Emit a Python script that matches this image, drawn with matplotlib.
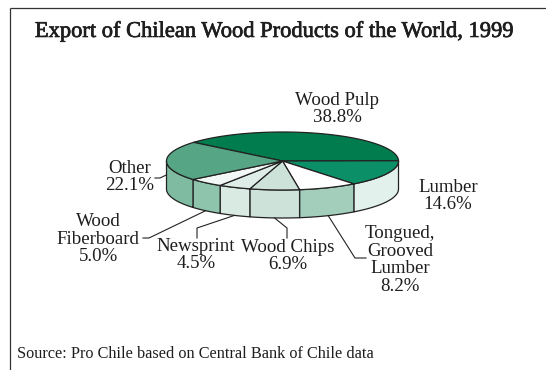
import numpy as np
import matplotlib
matplotlib.use("Agg")
import matplotlib.pyplot as plt
from matplotlib.patches import Polygon
import matplotlib.patheffects as pe

# ---- data ----
categories = ["Wood Pulp", "Lumber", "Tongued,\nGrooved\nLumber", "Wood Chips",
              "Newsprint", "Wood\nFiberboard", "Other"]
values = [38.8, 14.6, 8.2, 6.9, 4.5, 5.0, 22.1]
top_colors = ["#007c4f", "#0b8f66", "#ffffff", "#cde3da", "#deede7", "#f1f8f5", "#56a686"]
side_colors = ["#007c4f", "#e3f1ec", "#a4cebc", "#cde3da", "#d9eae3", "#8ec4ac", "#7ebba1"]

# ---- geometry (pixel-space layout) ----
W, H = 546, 370
cx, cy, a, b, depth = 282.5, 161.0, 116.0, 29.0, 28.0
start = 140.0

fig = plt.figure(figsize=(W / 100, H / 100), dpi=100)
ax = fig.add_axes([0, 0, 1, 1])
ax.set_xlim(0, W)
ax.set_ylim(H, 0)
ax.axis("off")

ec = "#222222"
lw = 0.9

def pt(theta_deg):
    t = np.radians(theta_deg)
    return cx + a * np.cos(t), cy - b * np.sin(t)

total = sum(values)
angles = [start]
for v in values:
    angles.append(angles[-1] - v / total * 360.0)

# sides (only front-facing part)
for i, v in enumerate(values):
    t0, t1 = angles[i], angles[i + 1]
    ts = np.linspace(t0, t1, 200)
    tn = ((ts + 180) % 360) - 180
    mask = tn < 0
    if not mask.any():
        continue
    seg = ts[mask]
    xs, ys = pt(seg)
    poly = np.concatenate([np.column_stack([xs, ys]),
                           np.column_stack([xs[::-1], ys[::-1] + depth])])
    ax.add_patch(Polygon(poly, closed=True, facecolor=side_colors[i],
                         edgecolor=ec, linewidth=lw, joinstyle="round", zorder=2))

# tops
for i, v in enumerate(values):
    t0, t1 = angles[i], angles[i + 1]
    ts = np.linspace(t0, t1, 200)
    xs, ys = pt(ts)
    poly = np.concatenate([[[cx, cy]], np.column_stack([xs, ys])])
    ax.add_patch(Polygon(poly, closed=True, facecolor=top_colors[i],
                         edgecolor=ec, linewidth=lw, joinstyle="round", zorder=3))

# ---- labels ----
font = "Liberation Serif"
tc = "#1e1e1e"
fs = 13.6
pcts = ["%.1f%%" % v for v in values]
label_pos = [(337, 109), (448, 196), (400, 260), (288, 256), (196, 255),
             (98, 239), (130, 177)]
for i, (x, y) in enumerate(label_pos):
    ax.text(x, y, categories[i] + "\n" + pcts[i], ha="center", va="center",
            fontsize=fs, family=font, color=tc, linespacing=1.05, zorder=5)

# leader lines: from side at slice mid-angle to label
mid = [(angles[i] + angles[i + 1]) / 2 for i in range(len(values))]
leaders = {
    6: [(155, 178), (160, 178)],
    5: [(143, 238), (149, 238)],
    4: [(197, 228), (197, 238)],
    3: [(287, 228), (287, 238)],
    2: [(355, 258), (366, 258)],
}
for i, pts in leaders.items():
    x0, y0 = pt(mid[i])
    y0 += depth * (0.5 if i == 6 else 1.0)
    if i in (6, 5):
        path = [pts[0], pts[1], (x0, y0)]
    else:
        path = [(x0, y0)] + pts
    xs, ys = zip(*path)
    ax.plot(xs, ys, color=ec, lw=0.8, zorder=4)

# ---- title, source, frame ----
ax.text(274.5, 32, "Export of Chilean Wood Products of the World, 1999",
        ha="center", va="center", fontsize=16.2, family=font, color=tc,
        path_effects=[pe.withStroke(linewidth=0.5, foreground=tc)])
ax.text(17, 354, "Source: Pro Chile based on Central Bank of Chile data",
        ha="left", va="center", fontsize=11.7, family=font, color=tc)
ax.plot([10, W], [8, 8], color="#333333", lw=0.9, solid_capstyle="butt")
ax.plot([10, 10], [8, H], color="#333333", lw=0.9, solid_capstyle="butt")

fig.savefig("out.png", dpi=100)
